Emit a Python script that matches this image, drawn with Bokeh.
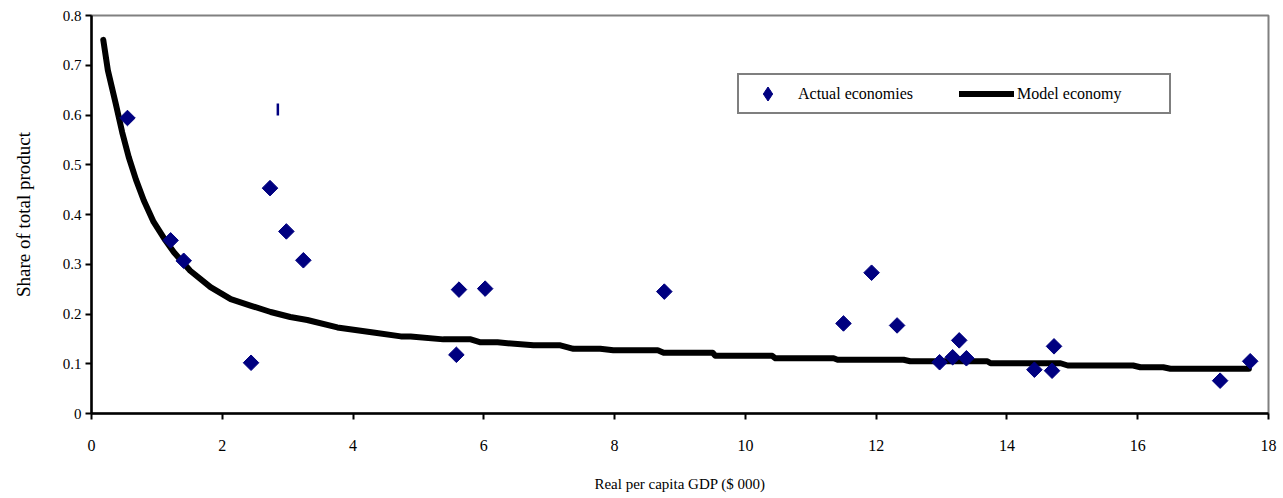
import math
from bokeh.plotting import figure
from bokeh.models import (Legend, LegendItem, FixedTicker, CustomJSTickFormatter,
                          Range1d)
from bokeh.embed import file_html
from bokeh.resources import INLINE

# Observed economies: real per capita GDP ($ 000) vs share of total product
actual_gdp = [0.55, 1.21, 1.41, 2.44, 2.73, 2.98, 3.24, 5.58, 5.62, 6.02, 8.76,
              11.50, 11.93, 12.32, 12.97, 13.17, 13.27, 13.38, 14.42, 14.69,
              14.72, 17.26, 17.72]
actual_share = [0.594, 0.348, 0.307, 0.102, 0.453, 0.366, 0.308, 0.118, 0.249,
                0.251, 0.245, 0.181, 0.283, 0.177, 0.103, 0.113, 0.147, 0.111,
                0.088, 0.086, 0.135, 0.066, 0.105]

# Stray observation marker
stray_gdp = [2.85]
stray_share = [0.611]

# Model economy path (stepped where the model output is rounded)
model_gdp = [0.18, 0.25, 0.37, 0.47, 0.57, 0.68, 0.80, 0.95, 1.13, 1.26, 1.51,
             1.82, 2.13, 2.43, 2.74, 3.04, 3.30, 3.76, 4.31, 4.73, 4.88, 5.38,
             5.80, 5.95, 6.21, 6.76, 7.17, 7.37, 7.78, 7.98, 8.66, 8.75, 9.50,
             9.54, 10.41, 10.46, 11.35, 11.41, 12.42, 12.52, 13.70, 13.75,
             14.82, 14.93, 15.93, 16.04, 16.39, 16.50, 17.70]
model_share = [0.751, 0.690, 0.623, 0.565, 0.515, 0.470, 0.428, 0.385, 0.348,
               0.324, 0.287, 0.254, 0.230, 0.217, 0.204, 0.194, 0.188, 0.173,
               0.163, 0.155, 0.155, 0.149, 0.149, 0.143, 0.143, 0.137, 0.137,
               0.130, 0.130, 0.127, 0.127, 0.122, 0.122, 0.116, 0.116, 0.111,
               0.111, 0.108, 0.108, 0.105, 0.105, 0.101, 0.101, 0.0965, 0.0965,
               0.093, 0.093, 0.090, 0.090]

x_ticks = [0, 2, 4, 6, 8, 10, 12, 14, 16, 18]
y_ticks = [0, 0.1, 0.2, 0.3, 0.4, 0.5, 0.6, 0.7, 0.8]
y_tick_labels = ["0", "0.1", "0.2", "0.3", "0.4", "0.5", "0.6", "0.7", "0.8"]

SERIF = "Liberation Serif"
NAVY = "#000080"

p = figure(width=1283, height=498, output_backend="svg", toolbar_location=None,
           x_range=Range1d(0, 18), y_range=Range1d(0, 0.8),
           min_border_left=91, min_border_right=15, min_border_top=15,
           min_border_bottom=85)
p.grid.visible = False
p.outline_line_color = "#808080"
p.outline_line_width = 2
p.background_fill_color = "white"
p.border_fill_color = "white"

model = p.line(model_gdp, model_share, line_color="black", line_width=6,
               line_join="round", line_cap="round")
# diamond layer underneath supplies the legend swatch; the rotated squares
# on top give the points their square-diamond shape
actual_key = p.scatter(actual_gdp, actual_share, marker="diamond", size=10,
                       fill_color=NAVY, line_color=NAVY)
p.scatter(actual_gdp, actual_share, marker="square", size=11,
          angle=math.pi / 4, fill_color=NAVY, line_color=NAVY)
p.scatter(stray_gdp, stray_share, marker="dash", size=12, angle=math.pi / 2,
          line_color=NAVY, line_width=2.5)

for ax in (p.xaxis[0], p.yaxis[0]):
    ax.axis_line_color = "black"
    ax.axis_line_width = 2.5
    ax.major_tick_line_color = "black"
    ax.major_tick_line_width = 2
    ax.major_tick_in = 0
    ax.major_tick_out = 6
    ax.minor_tick_line_color = None
    ax.major_label_text_font = SERIF
    ax.major_label_text_color = "black"
    ax.axis_label_text_font = SERIF
    ax.axis_label_text_font_style = "normal"
    ax.axis_label_text_color = "black"

p.xaxis.ticker = FixedTicker(ticks=x_ticks)
p.xaxis.major_label_text_font_size = "16px"
p.xaxis.major_label_standoff = 20
p.xaxis.axis_label = "Real per capita GDP ($ 000)"
p.xaxis.axis_label_text_font_size = "15px"
p.xaxis.axis_label_standoff = 22

p.yaxis.ticker = FixedTicker(ticks=y_ticks)
p.yaxis.formatter = CustomJSTickFormatter(
    args=dict(vals=y_ticks, labels=y_tick_labels),
    code="""
    let best = 0;
    for (let i = 0; i < vals.length; i++) {
        if (Math.abs(vals[i] - tick) < Math.abs(vals[best] - tick)) best = i;
    }
    return labels[best];
    """)
p.yaxis.major_label_text_font_size = "15px"
p.yaxis.major_label_standoff = 4
p.yaxis.axis_label = "Share of total product"
p.yaxis.axis_label_text_font_size = "19px"
p.yaxis.axis_label_standoff = 26

legend = Legend(items=[LegendItem(label="Actual economies", renderers=[actual_key]),
                       LegendItem(label="Model economy", renderers=[model])],
                orientation="horizontal", location=(646, 299), margin=0,
                padding=1, spacing=10, glyph_width=55, glyph_height=35,
                label_standoff=3, label_width=151, label_height=35,
                label_text_font=SERIF, label_text_font_size="16px",
                label_text_color="black",
                border_line_color="black", border_line_width=2,
                background_fill_color="white", background_fill_alpha=1)
p.add_layout(legend, "center")

open("out.html", "w").write(file_html(p, INLINE))
